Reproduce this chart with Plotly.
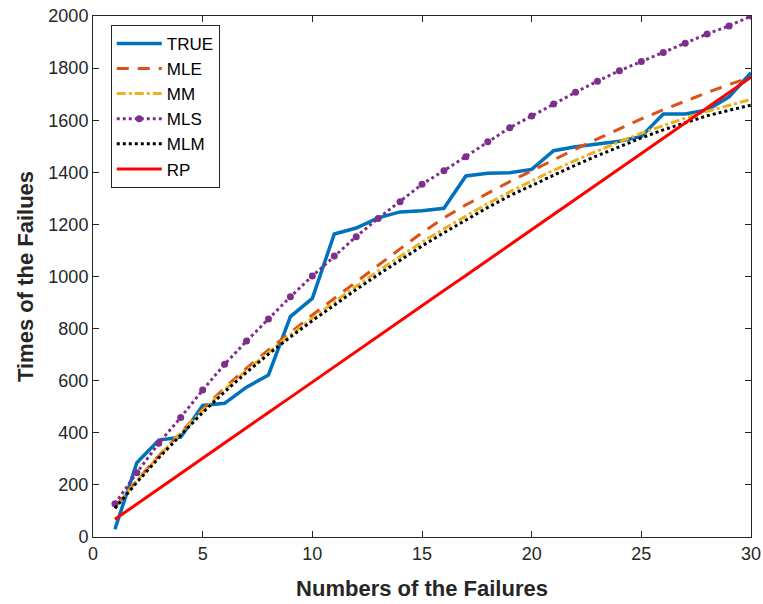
import plotly.graph_objects as go

n = list(range(1, 31))

true_vals = [30, 285, 372, 383, 505, 513, 575, 622, 846, 916,
             1163, 1186, 1225, 1248, 1252, 1262, 1386, 1396, 1398, 1411,
             1483, 1498, 1509, 1519, 1538, 1624, 1624, 1639, 1690, 1782]
mle_vals = [115, 217, 312, 403, 490, 572, 648, 718, 786, 852,
            916, 980, 1043, 1106, 1168, 1225, 1275, 1321, 1364, 1406,
            1448, 1489, 1528, 1567, 1605, 1640, 1674, 1706, 1737, 1765]
mm_vals = [115, 215, 310, 400, 485, 565, 640, 710, 777, 840,
           903, 963, 1021, 1078, 1132, 1183, 1232, 1280, 1325, 1368,
           1408, 1446, 1483, 1517, 1550, 1580, 1608, 1634, 1658, 1680]
mls_vals = [128, 247, 360, 459, 564, 663, 752, 837, 922, 1002,
            1079, 1153, 1223, 1287, 1354, 1406, 1460, 1517, 1571, 1616,
            1662, 1707, 1750, 1790, 1825, 1860, 1895, 1931, 1962, 2000]
mlm_vals = [110, 210, 304, 393, 478, 557, 632, 702, 768, 830,
            891, 950, 1007, 1063, 1117, 1168, 1218, 1265, 1310, 1350,
            1390, 1428, 1464, 1499, 1532, 1563, 1591, 1617, 1638, 1658]
rp_vals = [68, 127, 185, 244, 302, 361, 419, 478, 536, 595,
           653, 712, 770, 829, 887, 946, 1004, 1063, 1121, 1180,
           1238, 1297, 1355, 1414, 1472, 1531, 1589, 1648, 1706, 1765]

x_ticks = [0, 5, 10, 15, 20, 25, 30]
y_ticks = list(range(0, 2001, 200))

series = [
    ("TRUE", true_vals, dict(color="#0072BD", width=3.5, dash="solid"), None),
    ("MLE", mle_vals, dict(color="#D95319", width=3, dash="12px,9px"), None),
    ("MM", mm_vals, dict(color="#EDB120", width=3, dash="dashdot"), None),
    ("MLS", mls_vals, dict(color="#7E2F8E", width=3, dash="dot"),
     dict(symbol="circle", size=7, color="#7E2F8E")),
    ("MLM", mlm_vals, dict(color="#000000", width=3, dash="dot"), None),
    ("RP", rp_vals, dict(color="#FF0000", width=3, dash="solid"), None),
]

fig = go.Figure()
for name, vals, line, marker in series:
    fig.add_trace(go.Scatter(
        x=n, y=vals, name=name,
        mode="lines+markers" if marker else "lines",
        line=line, marker=marker,
    ))

axis_common = dict(
    showline=True, linecolor="#262626", linewidth=1, mirror="ticks",
    ticks="inside", ticklen=6, tickcolor="#262626", showgrid=False,
    zeroline=False, automargin=False,
    tickfont=dict(family="Liberation Sans, Arial", size=18, color="#262626"),
)

fig.update_layout(
    width=763, height=604,
    margin=dict(l=93, r=12, t=16, b=67),
    paper_bgcolor="white", plot_bgcolor="white",
    font=dict(family="Liberation Sans, Arial", color="#262626"),
    xaxis=dict(range=[0, 30], tickvals=x_ticks, **axis_common,
               title=dict(text="<b>Numbers of the Failures</b>",
                          font=dict(size=22, color="#262626"), standoff=18)),
    yaxis=dict(range=[0, 2000], tickvals=y_ticks, **axis_common,
               title=dict(text="<b>Times of the Failues</b>",
                          font=dict(size=22, color="#262626"), standoff=8)),
    legend=dict(x=0.027, y=0.983, xanchor="left", yanchor="top",
                bordercolor="#262626", borderwidth=1, bgcolor="white",
                font=dict(size=17, color="#000000"), tracegroupgap=0,
                itemwidth=45),
)

fig.write_html(
    "out.html",
    config={"displayModeBar": False},
    post_script="document.body.style.margin='0';document.body.style.overflow='hidden';",
)
